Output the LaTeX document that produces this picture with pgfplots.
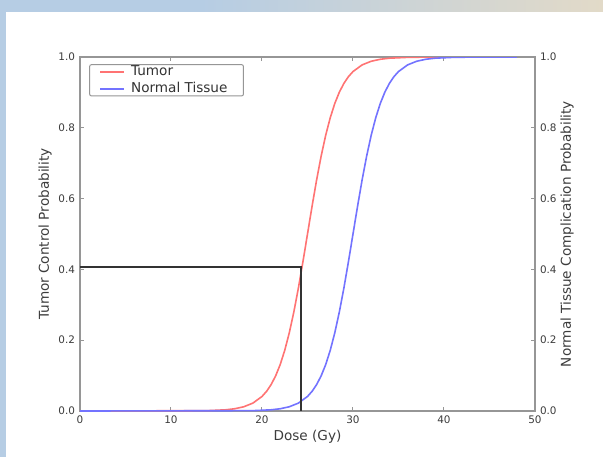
\documentclass[border=0pt]{standalone}
\usepackage{pgfplots}
\pgfplotsset{compat=1.18}
\usepackage{fontspec}
\setmainfont{DejaVu Sans}

\definecolor{tumred}{RGB}{255,115,115}
\definecolor{ntblue}{RGB}{115,115,255}
\definecolor{axgray}{RGB}{150,150,150}
\definecolor{txtgray}{RGB}{60,60,60}
\definecolor{bgblue}{RGB}{182,205,228}
\definecolor{bgbeige}{RGB}{226,218,200}

% dose (Gy), tumor control probability
\pgfplotstableread{
x y
0 0
14 0.0010
16 0.0034
17 0.0064
18 0.0120
19 0.0223
20 0.0411
20.5 0.0555
21 0.0745
21.5 0.0993
22 0.1312
22.5 0.1715
23 0.2210
23.5 0.2799
24 0.3475
24.5 0.4219
25 0.5000
25.5 0.5781
26 0.6525
26.5 0.7201
27 0.7790
27.5 0.8285
28 0.8688
28.5 0.9007
29 0.9255
29.5 0.9445
30 0.9589
31 0.9777
32 0.9880
33 0.9936
34 0.9966
36 0.9990
38 0.9997
48 1.0
}\tumor

% dose (Gy), normal tissue complication probability
\pgfplotstableread{
x y
0 0
19 0.0010
21 0.0034
22 0.0064
23 0.0120
24 0.0223
25 0.0411
25.5 0.0555
26 0.0745
26.5 0.0993
27 0.1312
27.5 0.1715
28 0.2210
28.5 0.2799
29 0.3475
29.5 0.4219
30 0.5000
30.5 0.5781
31 0.6525
31.5 0.7201
32 0.7790
32.5 0.8285
33 0.8688
33.5 0.9007
34 0.9255
34.5 0.9445
35 0.9589
36 0.9777
37 0.9880
38 0.9936
39 0.9966
41 0.9990
43 0.9997
48 1.0
}\normal

\begin{document}
\begin{tikzpicture}
% slide background and white panel
\fill[bgblue] (-40pt,-23pt) rectangle (261.5pt,205.5pt);
\shade[left color=bgblue, right color=bgbeige] (60pt,199.5pt) rectangle (261.5pt,205.5pt);
\fill[white] (-37pt,-23pt) rectangle (261.5pt,199.5pt);

\pgfplotsset{
  every axis/.append style={
    at={(0,0)}, anchor=south west,
    scale only axis, width=227.5pt, height=177pt,
    xmin=0, xmax=50, ymin=0, ymax=1,
    axis line style={axgray, line width=0.6pt},
    tick style={axgray, line width=0.5pt},
    major tick length=2pt, tick align=inside,
    ticklabel style={font=\fontsize{5.2}{6}\selectfont, text=txtgray},
    label style={font=\fontsize{6.8}{8}\selectfont, text=txtgray},
    ytick={0,0.2,0.4,0.6,0.8,1.0},
    yticklabel style={/pgf/number format/fixed, /pgf/number format/fixed zerofill, /pgf/number format/precision=1},
    /pgf/number format/assume math mode=true,
  }
}

\begin{axis}[
  xtick={0,10,20,30,40,50},
  xtick pos=both, ytick pos=left,
  xticklabel style={yshift=1pt},
  yticklabel style={xshift=1pt},
  xlabel={Dose (Gy)},
  ylabel={Tumor Control Probability},
  xlabel style={at={(axis description cs:0.5,0)}, anchor=center, yshift=-13pt},
  ylabel style={at={(axis description cs:0,0.5)}, anchor=center, yshift=17.5pt},
  legend style={at={(rel axis cs:0.02,0.98)}, anchor=north west,
    draw=axgray, rounded corners=1pt, line width=0.5pt,
    font=\fontsize{6.8}{8}\selectfont, text=black!80,
    inner xsep=5pt, inner ysep=0pt, row sep=1.3pt,
    nodes={inner xsep=3pt, inner ysep=0.6pt, text height=4.8pt, text depth=1.2pt}},
  legend cell align=left,
  legend image code/.code={\draw[#1] (0cm,0cm) -- (0.42cm,0cm);},
]
\addplot[tumred, line width=0.8pt] table[x=x, y=y] {\tumor};
\addlegendentry{Tumor}
\addplot[ntblue, line width=0.8pt] table[x=x, y=y] {\normal};
\addlegendentry{Normal Tissue}
\addplot[black!80, line width=1pt, forget plot] coordinates {(0,0.407) (24.3,0.407) (24.3,0)};
\end{axis}

\begin{axis}[
  axis x line=none, axis y line*=right,
  ytick pos=right,
  yticklabel style={xshift=-1pt},
  ylabel={Normal Tissue Complication Probability},
  ylabel style={at={(axis description cs:1,0.5)}, anchor=center, yshift=-16pt},
]
\addplot[draw=none] coordinates {(0,0) (50,1)};
\end{axis}
\end{tikzpicture}
\end{document}
